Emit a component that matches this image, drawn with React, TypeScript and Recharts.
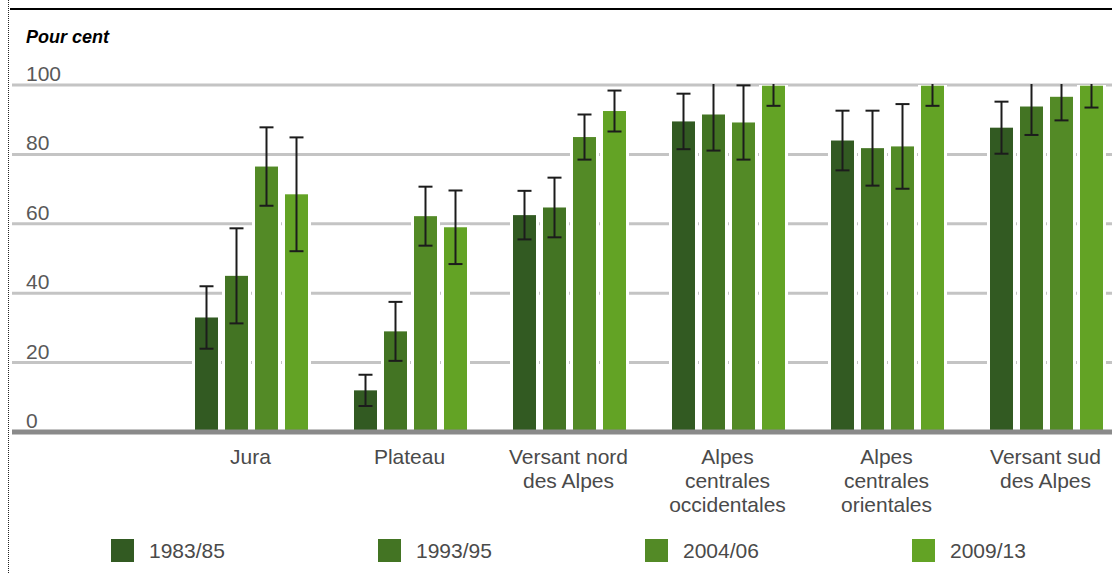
import { Bar, BarChart, CartesianGrid, ErrorBar, XAxis, YAxis } from "recharts";

// Regions (first slot is left empty in the source chart)
const regions = [
  "",
  "Jura",
  "Plateau",
  "Versant nord\ndes Alpes",
  "Alpes\ncentrales\noccidentales",
  "Alpes\ncentrales\norientales",
  "Versant sud\ndes Alpes",
];

const periods = ["1983/85", "1993/95", "2004/06", "2009/13"];
const colors = ["#325a22", "#437423", "#538a26", "#63a325"];

const v1983 = [null, 33, 12, 62.5, 89.5, 84, 87.7];
const e1983 = [null, 9, 4.5, 7, 8, 8.6, 7.5];
const v1993 = [null, 45, 29, 64.7, 91.5, 81.8, 93.8];
const e1993 = [null, 13.7, 8.5, 8.6, 10.4, 10.8, 8.2];
const v2004 = [null, 76.5, 62.2, 85, 89.2, 82.3, 96.6];
const e2004 = [null, 11.3, 8.5, 6.5, 10.7, 12.2, 6.8];
const v2009 = [null, 68.5, 59, 92.5, 99.8, 99.8, 99.8];
const e2009 = [null, 16.4, 10.6, 5.9, 5.8, 5.8, 6.3];

const yTicks = [0, 20, 40, 60, 80, 100];

const values = [v1983, v1993, v2004, v2009];
const errors = [e1983, e1993, e2004, e2009];

const data = regions.map((name, i) => {
  const row: Record<string, string | number | null> = { name };
  values.forEach((vals, s) => {
    row[`s${s}`] = vals[i];
    row[`e${s}`] = errors[s][i];
  });
  return row;
});

const FONT = '"Liberation Sans", Arial, sans-serif';
const W = 1130;
const H = 573;
const MARGIN = { top: 85, right: 5, left: 11, bottom: 140 };

function YTick({ x, y, payload }: any) {
  return (
    <text x={x + 14} y={y - 4} fill="#595959" fontSize={21} fontFamily={FONT}>
      {payload.value}
    </text>
  );
}

function XTick({ x, y, payload }: any) {
  const lines = String(payload.value).split("\n");
  return (
    <text
      x={x}
      y={y + 32}
      fill="#4a4a4a"
      fontSize={21}
      fontFamily={FONT}
      textAnchor="middle"
    >
      {lines.map((line, i) => (
        <tspan key={i} x={x} dy={i === 0 ? 0 : 24}>
          {line}
        </tspan>
      ))}
    </text>
  );
}

// bar with a white halo so the grid lines stop short of it
function HaloBar({ x, y, width, height, fill }: any) {
  if (!height || height <= 0) return null;
  return (
    <g>
      <rect x={x - 3} y={y - 2} width={width + 6} height={height + 2} fill="#fff" />
      <rect x={x} y={y} width={width} height={height} fill={fill} />
    </g>
  );
}

export default function App() {
  return (
    <div
      style={{
        position: "fixed",
        left: 0,
        top: 0,
        width: 1112,
        height: 573,
        overflow: "hidden",
        background: "#fff",
        fontFamily: FONT,
      }}
    >
      {/* error bars above 100 % are cut off at the plot top, as in the source */}
      <style>{`.recharts-errorBars { clip-path: url(#errClip); }`}</style>
      <div
        style={{
          position: "absolute",
          left: 8,
          top: 0,
          bottom: 0,
          borderLeft: "1px dotted #222",
        }}
      />
      <div
        style={{
          position: "absolute",
          left: 10,
          right: 0,
          top: 8,
          height: 2,
          background: "#000",
        }}
      />
      <div
        style={{
          position: "absolute",
          left: 26,
          top: 26,
          fontSize: 18,
          fontWeight: "bold",
          fontStyle: "italic",
          color: "#000",
          lineHeight: "22px",
        }}
      >
        Pour cent
      </div>
      <div style={{ position: "absolute", left: 0, top: 0 }}>
        <BarChart
          width={W}
          height={H}
          data={data}
          margin={MARGIN}
          barGap={7}
          barCategoryGap={24}
        >
          <defs>
            <clipPath id="errClip" clipPathUnits="userSpaceOnUse">
              <rect x={0} y={MARGIN.top - 1} width={W} height={H} />
            </clipPath>
          </defs>
          <CartesianGrid vertical={false} stroke="#c4c4c4" strokeWidth={3} />
          <XAxis
            dataKey="name"
            height={1}
            tickLine={false}
            tickSize={0}
            tickMargin={0}
            axisLine={{ stroke: "#8a8a8a", strokeWidth: 5 }}
            tick={<XTick />}
            interval={0}
          />
          <YAxis
            width={1}
            domain={[0, 100]}
            ticks={yTicks}
            allowDataOverflow
            axisLine={false}
            tickLine={false}
            tickSize={0}
            tickMargin={0}
            tick={<YTick />}
          />
          {periods.map((p, s) => (
            <Bar
              key={p}
              dataKey={`s${s}`}
              name={p}
              fill={colors[s]}
              shape={<HaloBar />}
              isAnimationActive={false}
            >
              <ErrorBar
                dataKey={`e${s}`}
                direction="y"
                width={7}
                stroke="#1c1c1c"
                strokeWidth={2}
              />
            </Bar>
          ))}
        </BarChart>
      </div>
      <div
        style={{
          position: "absolute",
          left: 111,
          top: 539,
          display: "flex",
        }}
      >
        {periods.map((p, s) => (
          <div
            key={p}
            style={{ width: 267, display: "flex", alignItems: "center" }}
          >
            <div style={{ width: 23, height: 23, background: colors[s] }} />
            <span
              style={{
                marginLeft: 15,
                fontSize: 21,
                lineHeight: "23px",
                color: "#4a4a4a",
              }}
            >
              {p}
            </span>
          </div>
        ))}
      </div>
    </div>
  );
}
